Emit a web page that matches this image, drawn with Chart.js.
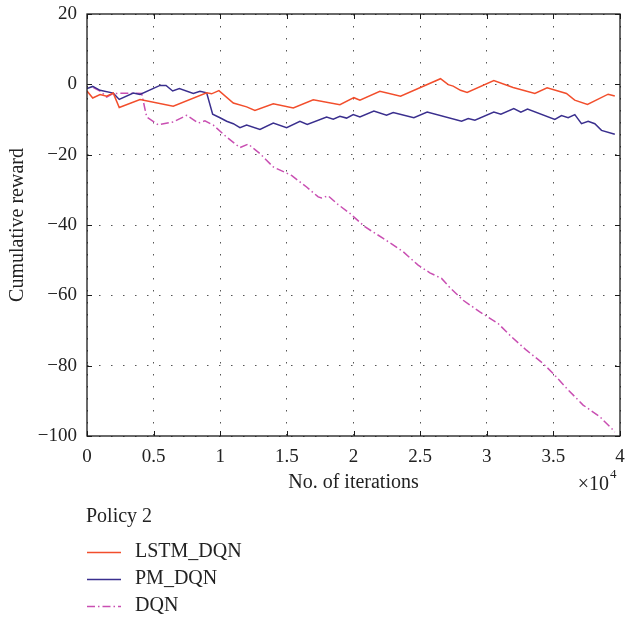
<!DOCTYPE html>
<html>
<head>
<meta charset="utf-8">
<title>Cumulative reward - Policy 2</title>
<script src="https://cdn.jsdelivr.net/npm/chart.js@4"></script>
<style>
  html, body { margin: 0; padding: 0; background: #fff; }
  #wrap { width: 625px; height: 620px; }
</style>
</head>
<body>
<div id="wrap"><canvas id="rewardChart" width="625" height="620"></canvas></div>
<script>
// iterations are in units of 10^4
const lstmX = [0, 0.043, 0.098, 0.148, 0.197, 0.242, 0.398, 0.647, 0.898, 0.935, 0.99, 1.098, 1.198, 1.26, 1.398, 1.548, 1.698, 1.898, 2.003, 2.048, 2.198, 2.353, 2.653, 2.711, 2.748, 2.803, 2.853, 3.053, 3.198, 3.361, 3.453, 3.598, 3.66, 3.756, 3.911, 3.961];
const lstmY = [-1.9, -3.9, -2.9, -3.4, -2.5, -6.6, -4.3, -6.2, -2.4, -2.7, -1.8, -5.3, -6.4, -7.4, -5.5, -6.7, -4.4, -5.8, -3.8, -4.5, -2.0, -3.4, 1.6, -0.1, -0.5, -1.7, -2.3, 1.1, -0.9, -2.6, -1.0, -2.6, -4.5, -5.7, -2.8, -3.3];

const pmX = [0, 0.043, 0.098, 0.197, 0.242, 0.347, 0.398, 0.548, 0.593, 0.643, 0.693, 0.798, 0.848, 0.898, 0.943, 0.998, 1.048, 1.098, 1.148, 1.198, 1.298, 1.398, 1.498, 1.598, 1.653, 1.798, 1.848, 1.898, 1.948, 1.998, 2.048, 2.153, 2.248, 2.298, 2.453, 2.553, 2.811, 2.861, 2.911, 3.053, 3.106, 3.203, 3.256, 3.306, 3.511, 3.561, 3.611, 3.661, 3.711, 3.761, 3.811, 3.861, 3.961];
const pmY = [-1.2, -0.6, -1.7, -2.5, -4.3, -2.5, -2.9, -0.3, -0.3, -1.9, -1.2, -2.6, -2.0, -2.4, -8.5, -9.5, -10.5, -11.2, -12.3, -11.6, -12.8, -11.0, -12.3, -10.5, -11.4, -9.3, -9.9, -9.1, -9.6, -8.6, -9.3, -7.6, -8.8, -8.0, -9.5, -7.9, -10.5, -9.7, -10.2, -7.9, -8.5, -6.9, -7.9, -7.0, -10.0, -8.9, -9.5, -8.6, -11.2, -10.5, -11.2, -13.1, -14.2];

const dqnX = [0.048, 0.098, 0.148, 0.197, 0.323, 0.41, 0.448, 0.535, 0.648, 0.748, 0.835, 0.885, 0.948, 1.048, 1.148, 1.21, 1.298, 1.398, 1.535, 1.648, 1.735, 1.76, 1.81, 1.885, 1.973, 2.085, 2.223, 2.373, 2.485, 2.573, 2.661, 2.723, 2.823, 2.948, 3.085, 3.186, 3.298, 3.423, 3.498, 3.611, 3.723, 3.848, 3.943, 3.96];
const dqnY = [-0.9, -1.9, -3.6, -2.6, -2.5, -2.6, -9.3, -11.5, -10.7, -8.8, -11.0, -10.4, -11.6, -15.0, -18.0, -17.0, -19.7, -23.5, -25.9, -29.2, -32.0, -32.3, -31.7, -34.2, -36.7, -40.5, -43.8, -47.6, -51.4, -53.6, -55.2, -57.8, -61.4, -64.7, -68.0, -71.8, -75.6, -79.4, -82.2, -86.9, -91.2, -94.5, -98.1, -98.9];

const seriesNames = ['LSTM_DQN', 'PM_DQN', 'DQN'];
const legendTitle = 'Policy 2';
const xTicks = [0, 0.5, 1, 1.5, 2, 2.5, 3, 3.5, 4];
const yTicks = [20, 0, -20, -40, -60, -80, -100];

const SERIF = '"Liberation Serif", "DejaVu Serif", serif';

function points(xs, ys) {
  return xs.map((x, i) => ({ x: x, y: ys[i] }));
}

function fmtTick(v) {
  const s = String(+v.toFixed(1));
  return s.replace('-', '\u2212');
}

// frame, inward ticks, axis titles and the legend underneath
const decorations = {
  id: 'decorations',
  afterDatasetsDraw(chart) {
    const ctx = chart.ctx;
    const a = chart.chartArea;
    const xs = chart.scales.x, ys = chart.scales.y;
    ctx.save();
    ctx.strokeStyle = '#1a1a1a';
    ctx.lineWidth = 1.3;
    ctx.strokeRect(a.left, a.top, a.right - a.left, a.bottom - a.top);

    ctx.lineWidth = 1;
    ctx.beginPath();
    xTicks.forEach(v => {
      const px = Math.round(xs.getPixelForValue(v)) + 0.5;
      ctx.moveTo(px, a.bottom); ctx.lineTo(px, a.bottom - 5);
      ctx.moveTo(px, a.top); ctx.lineTo(px, a.top + 5);
    });
    yTicks.forEach(v => {
      const py = Math.round(ys.getPixelForValue(v)) + 0.5;
      ctx.moveTo(a.left, py); ctx.lineTo(a.left + 5, py);
      ctx.moveTo(a.right, py); ctx.lineTo(a.right - 5, py);
    });
    ctx.stroke();

    ctx.fillStyle = '#222';
    ctx.font = '20px ' + SERIF;
    ctx.textBaseline = 'middle';
    ctx.textAlign = 'center';
    ctx.fillText('No. of iterations', (a.left + a.right) / 2, 483);

    ctx.textAlign = 'right';
    ctx.fillText('\u00d710', 609, 485);
    ctx.font = '13px ' + SERIF;
    ctx.textAlign = 'left';
    ctx.fillText('4', 610, 475);

    ctx.font = '20px ' + SERIF;
    ctx.save();
    ctx.translate(18, (a.top + a.bottom) / 2);
    ctx.rotate(-Math.PI / 2);
    ctx.textAlign = 'center';
    ctx.fillText('Cumulative reward', 0, 0);
    ctx.restore();

    ctx.textAlign = 'left';
    ctx.fillText(legendTitle, 86, 517);
    chart.data.datasets.forEach((ds, i) => {
      const y = 552 + i * 27;
      ctx.save();
      ctx.strokeStyle = ds.borderColor;
      ctx.lineWidth = 1.5;
      ctx.setLineDash(ds.borderDash || []);
      ctx.beginPath();
      ctx.moveTo(87, y + 0.5);
      ctx.lineTo(121, y + 0.5);
      ctx.stroke();
      ctx.restore();
      ctx.fillText(ds.label, 135, y);
    });
    ctx.restore();
  }
};

const ctx = document.getElementById('rewardChart').getContext('2d');
new Chart(ctx, {
  type: 'line',
  data: {
    datasets: [{
      label: seriesNames[0],
      data: points(lstmX, lstmY),
      borderColor: '#f24e2c',
      borderWidth: 1.5
    }, {
      label: seriesNames[1],
      data: points(pmX, pmY),
      borderColor: '#3a2f8e',
      borderWidth: 1.5
    }, {
      label: seriesNames[2],
      data: points(dqnX, dqnY),
      borderColor: '#c94fb2',
      borderWidth: 1.5,
      borderDash: [8, 3, 1.5, 3]
    }]
  },
  options: {
    responsive: false,
    animation: false,
    devicePixelRatio: 1,
    layout: { padding: { left: 0, top: 14, right: 5, bottom: 0 } },
    elements: { point: { radius: 0 }, line: { tension: 0 } },
    plugins: {
      legend: { display: false },
      tooltip: { enabled: false }
    },
    scales: {
      x: {
        type: 'linear',
        min: 0, max: 4,
        afterBuildTicks: s => { s.ticks = xTicks.map(v => ({ value: v })); },
        afterFit: s => { s.height = 184; s.paddingLeft = 0; s.paddingRight = 0; },
        grid: { color: '#555', lineWidth: 1, drawTicks: false, borderDash: [1.5, 10.5] },
        border: { display: false, dash: [1.5, 10.5] },
        ticks: {
          padding: 10,
          color: '#222',
          font: { family: SERIF, size: 19 },
          maxRotation: 0,
          callback: v => fmtTick(v)
        }
      },
      y: {
        min: -100, max: 20,
        afterBuildTicks: s => { s.ticks = yTicks.map(v => ({ value: v })); },
        afterFit: s => { s.width = 87; s.paddingTop = 0; s.paddingBottom = 0; },
        grid: { color: '#555', lineWidth: 1, drawTicks: false, borderDash: [1.5, 10.5] },
        border: { display: false, dash: [1.5, 10.5] },
        ticks: {
          padding: 10,
          color: '#222',
          font: { family: SERIF, size: 19 },
          callback: v => fmtTick(v)
        }
      }
    }
  },
  plugins: [decorations]
});
</script>
</body>
</html>
